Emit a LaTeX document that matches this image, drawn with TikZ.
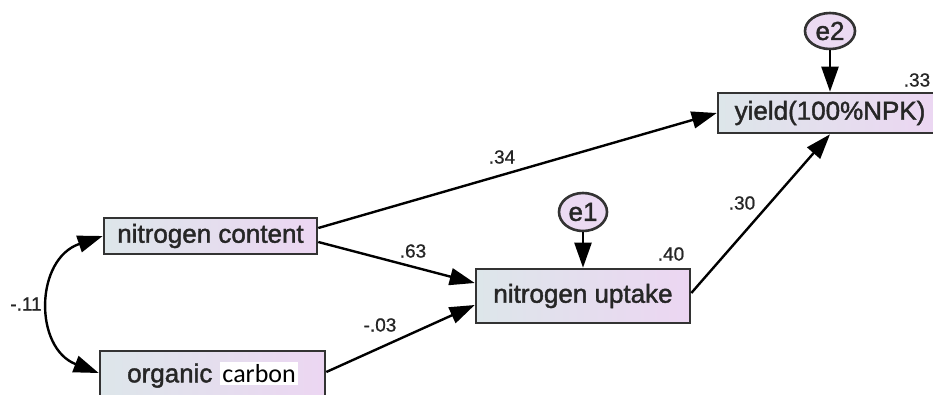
\documentclass[tikz,border=0pt]{standalone}
\usepackage{fontspec}
\setmainfont{Liberation Sans}
\newfontfamily\boxfont[FakeBold=1.6]{Liberation Sans}
\newfontfamily\coeffont[FakeBold=0.8]{Liberation Sans}
\newfontfamily\carl{Carlito}
\usetikzlibrary{arrows.meta,shapes.geometric}
\definecolor{boxL}{HTML}{DDE6EA}
\definecolor{boxR}{HTML}{ECD6F2}
\definecolor{errfill}{HTML}{EBDAF2}
\definecolor{edgegray}{HTML}{333333}
\definecolor{txt}{HTML}{262626}
\tikzset{
  obsbox/.style={draw=edgegray, line width=2.6pt, left color=boxL, right color=boxR,
    inner sep=0pt, text=txt, font=\boxfont\fontsize{26}{30}\selectfont},
  errnode/.style={draw=edgegray, line width=2.6pt, ellipse, fill=errfill,
    inner sep=0pt, text=txt, font=\boxfont\fontsize{26}{30}\selectfont},
  pathline/.style={line width=2.4pt, -{Triangle[length=25pt,width=17pt]}},
  covpath/.style={line width=2.4pt, {Triangle[length=25pt,width=17pt]}-{Triangle[length=25pt,width=17pt]}},
  coef/.style={text=txt, inner sep=0pt, font=\coeffont\fontsize{19}{22}\selectfont}
}
\begin{document}
\begin{tikzpicture}[x=1pt,y=-1pt]
\clip (0,0) rectangle (933,394);
\fill[white] (0,0) rectangle (933,394);
% observed variables
\node[obsbox, minimum width=213pt, minimum height=36pt] (nc) at (210.5,236) {nitrogen content};
\node[obsbox, minimum width=225pt, minimum height=48pt] (oc) at (212.5,375) {organic\hspace{8pt}{\carl\setlength{\fboxsep}{2pt}\colorbox{white}{\textcolor{black}{carbon}}}};
\node[obsbox, minimum width=214pt, minimum height=54pt] (nu) at (583,296) {nitrogen uptake};
\node[obsbox, minimum width=224pt, minimum height=40pt] (yl) at (830,113) {yield(100\%NPK)};
% error terms
\node[errnode, minimum width=48pt, minimum height=38pt] (e1) at (583,212) {e1};
\node[errnode, minimum width=50pt, minimum height=36pt] (e2) at (830,31) {e2};
% paths
\draw[pathline] ([yshift=8pt]nc.east) -- (yl.west);
\draw[pathline] ([yshift=-6pt]nc.east) -- ([yshift=13pt]nu.west);
\draw[pathline] ([yshift=3pt]oc.east) -- ([yshift=-9pt]nu.west);
\draw[pathline] ([yshift=3pt]nu.east) -- (yl.south);
\draw[pathline] (e1) -- (nu.north);
\draw[pathline] (e2) -- (yl.north);
\draw[covpath] (nc.west) .. controls +(-68,23) and +(-65,-25) .. ([yshift=2pt]oc.west);
% coefficients
\node[coef] (c34) at (502,157) {.34};
\node[coef] (c63) at (413,251) {.63};
\node[coef] (c03) at (380,325) {-.03};
\node[coef] (c30) at (742,203) {.30};
\node[coef] (c40) at (671,254) {.40};
\node[coef] (c33) at (917,80) {.33};
\node[coef] (c11) at (26,304) {-.11};
\end{tikzpicture}
\end{document}
